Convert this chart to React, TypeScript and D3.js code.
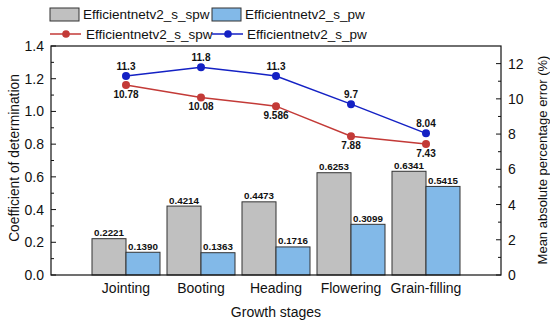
import * as d3 from "d3";
import React from "react";

// chart data
const stages = ["Jointing", "Booting", "Heading", "Flowering", "Grain-filling"];
const r2Spw = [0.2221, 0.4214, 0.4473, 0.6253, 0.6341];
const r2Pw = [0.139, 0.1363, 0.1716, 0.3099, 0.5415];
const mapeSpw = [10.78, 10.08, 9.586, 7.88, 7.43];
const mapePw = [11.3, 11.8, 11.3, 9.7, 8.04];
const leftTicks = [0, 0.2, 0.4, 0.6, 0.8, 1.0, 1.2, 1.4];
const rightTicks = [0, 2, 4, 6, 8, 10, 12];
const seriesNames = ["Efficientnetv2_s_spw", "Efficientnetv2_s_pw"];

const W = 550;
const H = 323;
const margin = { top: 46, right: 49, bottom: 48, left: 51 };
const font = "'Liberation Sans', Arial, sans-serif";

const colors = {
  grayBar: "#c0c0c0",
  blueBar: "#82b9e8",
  redLine: "#c33a37",
  blueLine: "#1421c4",
};

const App = () => {
  const x0 = margin.left;
  const x1 = W - margin.right;
  const y0 = H - margin.bottom;
  const y1 = margin.top;

  // Scales
  const xScale = d3.scaleBand().domain(stages).range([x0, x1]).paddingOuter(0.5).paddingInner(0);
  const sub = d3.scaleBand().domain(["spw", "pw"]).range([0, xScale.bandwidth()]).paddingOuter(0.103);
  const yLeft = d3.scaleLinear().domain([0, 1.4]).range([y0, y1]);
  const yRight = d3.scaleLinear().domain([0, 13]).range([y0, y1]);

  const cx = (s: string) => (xScale(s) as number) + xScale.bandwidth() / 2;

  const line = d3
    .line<number>()
    .x((d, i) => cx(stages[i]))
    .y((d) => yRight(d));

  const leftMinor = d3.range(0.1, 1.4, 0.2);
  const rightMinor = d3.range(1, 13, 2);
  const fmt = d3.format(".4f");

  const bars = [
    { key: "spw", values: r2Spw, fill: colors.grayBar },
    { key: "pw", values: r2Pw, fill: colors.blueBar },
  ];

  return (
    <svg width={W} height={H} style={{ position: "absolute", left: 0, top: 0, fontFamily: font }}>
      <rect width={W} height={H} fill="white" />

      {/* legend */}
      <g fontSize={13.5} fill="#111">
        <rect x={50} y={8} width={29} height={13} fill={colors.grayBar} stroke="#333" />
        <text x={83} y={19}>{seriesNames[0]}</text>
        <rect x={212} y={8} width={29} height={13} fill={colors.blueBar} stroke="#333" />
        <text x={245} y={19}>{seriesNames[1]}</text>

        <line x1={50} x2={81} y1={34} y2={34} stroke={colors.redLine} strokeWidth={1.5} />
        <circle cx={66} cy={34} r={3.8} fill={colors.redLine} />
        <text x={86} y={39}>{seriesNames[0]}</text>
        <line x1={212} x2={243} y1={34} y2={34} stroke={colors.blueLine} strokeWidth={1.5} />
        <circle cx={228} cy={34} r={3.8} fill={colors.blueLine} />
        <text x={247} y={39}>{seriesNames[1]}</text>
      </g>

      {/* bars */}
      {bars.map((b) =>
        stages.map((s, i) => {
          const bx = (xScale(s) as number) + (sub(b.key) as number);
          const by = yLeft(b.values[i]);
          return (
            <g key={b.key + s}>
              <rect x={bx} y={by} width={sub.bandwidth()} height={y0 - by} fill={b.fill} stroke="#333" strokeWidth={1} />
              <text x={bx + sub.bandwidth() / 2} y={by - 2.5} textAnchor="middle" fontSize={9.8} fontWeight="bold" fill="#111">
                {fmt(b.values[i])}
              </text>
            </g>
          );
        })
      )}

      {/* lines */}
      <path d={line(mapeSpw) as string} fill="none" stroke={colors.redLine} strokeWidth={1.5} />
      <path d={line(mapePw) as string} fill="none" stroke={colors.blueLine} strokeWidth={1.5} />
      {stages.map((s, i) => (
        <g key={"pt" + s} fontSize={10} fontWeight="bold" fill="#111" textAnchor="middle">
          <circle cx={cx(s)} cy={yRight(mapeSpw[i])} r={4} fill={colors.redLine} />
          <circle cx={cx(s)} cy={yRight(mapePw[i])} r={4} fill={colors.blueLine} />
          <text x={cx(s)} y={yRight(mapeSpw[i]) + 13}>{String(mapeSpw[i])}</text>
          <text x={cx(s)} y={yRight(mapePw[i]) - 6}>{String(mapePw[i])}</text>
        </g>
      ))}

      {/* frame */}
      <rect x={x0} y={y1} width={x1 - x0} height={y0 - y1} fill="none" stroke="#111" strokeWidth={1.2} />

      {/* axis ticks, pointing inward */}
      <g stroke="#111" strokeWidth={1}>
        {leftTicks.map((t) => (
          <line key={"lt" + t} x1={x0} x2={x0 + 5} y1={yLeft(t)} y2={yLeft(t)} />
        ))}
        {leftMinor.map((t) => (
          <line key={"lm" + t} x1={x0} x2={x0 + 3} y1={yLeft(t)} y2={yLeft(t)} />
        ))}
        {rightTicks.map((t) => (
          <line key={"rt" + t} x1={x1 - 5} x2={x1} y1={yRight(t)} y2={yRight(t)} />
        ))}
        {rightMinor.map((t) => (
          <line key={"rm" + t} x1={x1 - 3} x2={x1} y1={yRight(t)} y2={yRight(t)} />
        ))}
      </g>
      <g fontSize={14} fill="#111">
        {leftTicks.map((t) => (
          <text key={"ll" + t} x={x0 - 7} y={yLeft(t)} textAnchor="end" dominantBaseline="central">
            {d3.format(".1f")(t)}
          </text>
        ))}
        {rightTicks.map((t) => (
          <text key={"rl" + t} x={x1 + 7} y={yRight(t)} textAnchor="start" dominantBaseline="central">
            {t}
          </text>
        ))}
        {stages.map((s) => (
          <text key={"xl" + s} x={cx(s)} y={293} textAnchor="middle">
            {s}
          </text>
        ))}
      </g>

      {/* axis titles */}
      <g fill="#111" textAnchor="middle">
        <text x={(x0 + x1) / 2} y={317} fontSize={14}>Growth stages</text>
        <text transform={`translate(14, 158) rotate(-90)`} dominantBaseline="central" fontSize={13.8}>
          Coefficient of determination
        </text>
        <text transform={`translate(542, 160) rotate(-90)`} dominantBaseline="central" fontSize={13}>
          Mean absolute percentage error (%)
        </text>
      </g>
    </svg>
  );
};

export default App;
